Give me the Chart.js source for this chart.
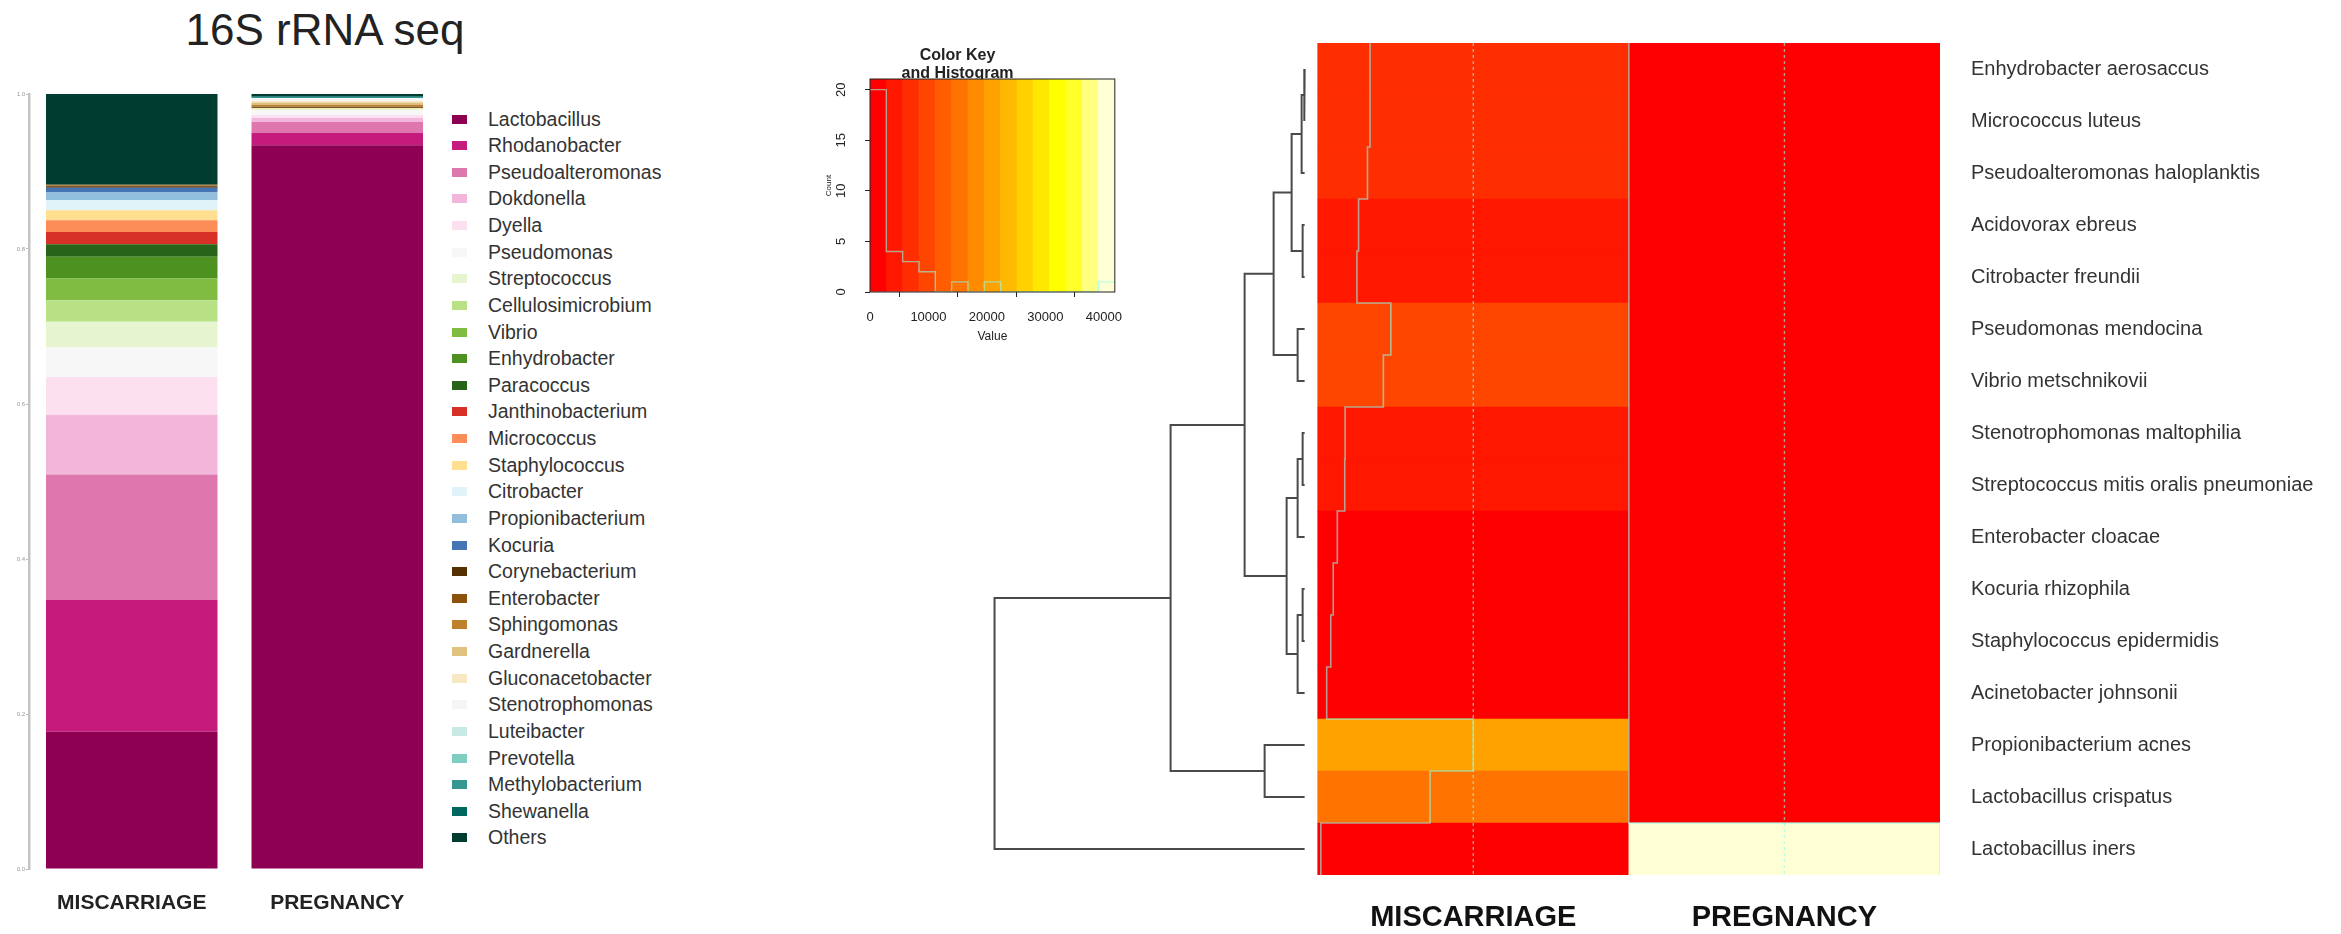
<!DOCTYPE html>
<html>
<head>
<meta charset="utf-8">
<title>16S rRNA seq</title>
<script src="https://cdn.jsdelivr.net/npm/chart.js@4.4.1/dist/chart.umd.min.js"></script>
<style>
  html, body { margin: 0; padding: 0; background: #fff; overflow: hidden; }
  body { position: relative; width: 2341px; height: 934px; font-family: "Liberation Sans", Arial, sans-serif; }
  canvas { position: absolute; }
  #title16s { position: absolute; left: 0; top: 5px; width: 650px; line-height: 50px; font-size: 44px; color: #222; text-align: center; }
  #legend16s { position: absolute; left: 452px; top: 105.7px; }
  .lg-row { display: flex; align-items: center; height: 26.63px; white-space: nowrap; font-size: 19.5px; color: #333; }
  .lg-box { flex: none; width: 15px; height: 9px; margin-right: 21px; }
</style>
</head>
<body>
<div id="title16s">16S rRNA seq</div>
<canvas id="stack" width="440" height="854" style="left:0px;top:80px"></canvas>
<div id="legend16s"></div>
<canvas id="heat" width="1349" height="903" style="left:991px;top:31px"></canvas>
<canvas id="key" width="335" height="301" style="left:800px;top:46px"></canvas>
<script>
// 16S rRNA relative abundance (stacked bars)
const groups16S = ["MISCARRIAGE", "PREGNANCY"]
const genera = [
  "Lactobacillus", "Rhodanobacter", "Pseudoalteromonas", "Dokdonella", "Dyella", "Pseudomonas",
  "Streptococcus", "Cellulosimicrobium", "Vibrio", "Enhydrobacter", "Paracoccus", "Janthinobacterium",
  "Micrococcus", "Staphylococcus", "Citrobacter", "Propionibacterium", "Kocuria", "Corynebacterium",
  "Enterobacter", "Sphingomonas", "Gardnerella", "Gluconacetobacter", "Stenotrophomonas", "Luteibacter",
  "Prevotella", "Methylobacterium", "Shewanella", "Others"
]
const generaColors = [
  "#8e0152", "#c51b7d", "#de77ae", "#f1b6da", "#fde0ef", "#f7f7f7",
  "#e6f5d0", "#b8e186", "#7fbc41", "#4d9221", "#276419", "#d73027",
  "#fc8d59", "#fee090", "#e0f3f8", "#91bfdb", "#4575b4", "#543005",
  "#8c510a", "#bf812d", "#dfc27d", "#f6e8c3", "#f5f5f5", "#c7eae5",
  "#80cdc1", "#35978f", "#01665e", "#003c30"
]
const miscarriage16S = [
  0.177, 0.170, 0.162, 0.077, 0.049, 0.038,
  0.033, 0.028, 0.028, 0.028, 0.016, 0.016,
  0.015, 0.013, 0.013, 0.010, 0.006, 0.002,
  0.001, 0.001, 0, 0, 0, 0,
  0, 0, 0, 0.117
]
const pregnancy16S = [
  0.934, 0.016, 0.014, 0.005, 0.004, 0.006,
  0.002, 0, 0, 0, 0, 0,
  0, 0.001, 0, 0, 0, 0.001,
  0.001, 0.002, 0.003, 0.002, 0.004, 0,
  0, 0.001, 0.001, 0.003
]

// heatmap (abundance per species) + row dendrogram
const species = [
  "Enhydrobacter aerosaccus", "Micrococcus luteus", "Pseudoalteromonas haloplanktis", "Acidovorax ebreus",
  "Citrobacter freundii", "Pseudomonas mendocina", "Vibrio metschnikovii", "Stenotrophomonas maltophilia",
  "Streptococcus mitis oralis pneumoniae", "Enterobacter cloacae", "Kocuria rhizophila", "Staphylococcus epidermidis",
  "Acinetobacter johnsonii", "Propionibacterium acnes", "Lactobacillus crispatus", "Lactobacillus iners"
]
const heatGroups = ["MISCARRIAGE", "PREGNANCY"]
const miscarriageAbund = [7040, 7040, 6700, 5500, 5280, 9840, 8840, 3690, 3640, 2640, 2090, 1760, 1210, 20940, 15120, 420]
const pregnancyAbund = [0, 0, 0, 0, 0, 0, 0, 0, 0, 0, 0, 0, 0, 0, 0, 41880]
// hclust style: negative = leaf (row number), positive = earlier merge
const dendroMerges = [
  [-1, -2], [1, -3], [-4, -5], [2, 3], [-6, -7], [4, 5], [-8, -9], [7, -10],
  [-11, -12], [9, -13], [8, 10], [6, 11], [-14, -15], [12, 13], [14, -16]
]
const dendroHeights = [0.05, 0.3, 0.2, 1.3, 0.7, 3.1, 0.2, 0.7, 0.2, 0.7, 1.8, 6.0, 4.0, 13.4, 31.0]

// colour key
const keyTicks = [0, 10000, 20000, 30000, 40000]
const countTicks = [0, 5, 10, 15, 20]
const histCounts = [20, 4, 3, 2, 0, 1, 0, 1, 0, 0, 0, 0, 0, 0, 1]

const FONT = '"Liberation Sans", Arial, sans-serif'
const TRACE = "rgba(140, 255, 240, 0.6)"
Chart.defaults.font.family = FONT
Chart.defaults.animation = false

// R heat.colors()
function hsv(h, s, v) {
  const i = Math.floor(h * 6), f = h * 6 - i
  const p = v * (1 - s), q = v * (1 - f * s), t = v * (1 - (1 - f) * s)
  const rgb = [[v, t, p], [q, v, p], [p, v, t], [p, q, v], [t, p, v], [v, p, q]][i % 6]
  return "rgb(" + rgb.map(c => Math.round(c * 255)).join(",") + ")"
}
function heatColors(n) {
  const j = Math.floor(n / 4), i = n - j
  const out = []
  for (let k = 0; k < i; k++) out.push(hsv(k / (i - 1) / 6, 1, 1))
  const s0 = 1 - 1 / (2 * j), s1 = 1 / (2 * j)
  for (let k = 0; k < j; k++) out.push(hsv(1 / 6, j > 1 ? s0 - k * (s0 - s1) / (j - 1) : s0, 1))
  return out
}

const nBins = histCounts.length
const palette = heatColors(nBins)
const allAbund = miscarriageAbund.concat(pregnancyAbund)
const heatMin = Math.min(...allAbund)
const heatMax = Math.max(...allAbund)
const breaks = Array.from({ length: nBins + 1 }, (_, k) => heatMin + k * (heatMax - heatMin) / nBins)
const scale01 = v => (v - heatMin) / (heatMax - heatMin)
const colorFor = v => palette[Math.min(nBins - 1, Math.floor(scale01(v) * nBins))]

// ---------- stacked bars ----------
const htmlLegend = {
  id: "htmlLegend",
  afterUpdate(chart) {
    const box = document.getElementById("legend16s")
    box.innerHTML = ""
    const items = chart.options.plugins.legend.labels.generateLabels(chart)
    items.forEach(item => {
      const row = document.createElement("div")
      row.className = "lg-row"
      const swatch = document.createElement("span")
      swatch.className = "lg-box"
      swatch.style.background = item.fillStyle
      const text = document.createElement("span")
      text.textContent = item.text
      row.append(swatch, text)
      box.appendChild(row)
    })
  }
}

new Chart(document.getElementById("stack"), {
  type: "bar",
  data: {
    labels: groups16S,
    datasets: genera.map((g, i) => ({
      label: g,
      data: [miscarriage16S[i], pregnancy16S[i]],
      backgroundColor: generaColors[i],
      borderWidth: 0,
      barPercentage: 0.8345,
      categoryPercentage: 1
    }))
  },
  options: {
    responsive: false,
    layout: { padding: { top: 14 } },
    plugins: {
      tooltip: { enabled: false },
      legend: { display: false }
    },
    scales: {
      x: {
        stacked: true,
        grid: { display: false, drawTicks: false },
        border: { display: false },
        ticks: { color: "#222", font: { size: 21, weight: "bold" }, padding: 21.5, maxRotation: 0, autoSkip: false },
        afterFit(s) { s.height = 65 }
      },
      y: {
        stacked: true,
        min: 0,
        max: 1,
        grid: { drawOnChartArea: false, drawTicks: true, tickLength: 3, color: "#bbb" },
        border: { color: "#c4c4c4", width: 2.5 },
        ticks: { stepSize: 0.2, color: "#999", font: { size: 6 }, padding: 1, callback: v => Number(v).toFixed(1) },
        afterFit(s) { s.width = 29 }
      }
    }
  },
  plugins: [htmlLegend]
})

// ---------- heatmap + dendrogram ----------
const dendroGap = 0.042
const dendroUnit = 0.03215

function dendroPoints() {
  const nodeX = [], nodeY = []
  const pos = id => id < 0 ? { x: -dendroGap, y: -id - 0.5 } : { x: nodeX[id - 1], y: nodeY[id - 1] }
  const pts = []
  dendroMerges.forEach(([a, b], k) => {
    const A = pos(a), B = pos(b)
    const x = -dendroGap - dendroHeights[k] * dendroUnit
    nodeX[k] = x
    nodeY[k] = (A.y + B.y) / 2
    pts.push({ x: A.x, y: A.y }, { x, y: A.y }, { x, y: B.y }, { x: B.x, y: B.y }, { x: null, y: null })
  })
  return pts
}

function tracePoints(values, col) {
  const pts = []
  values.forEach((v, i) => {
    const x = col + scale01(v)
    pts.push({ x, y: i }, { x, y: i + 1 })
  })
  return pts
}

const heatColumns = [miscarriageAbund, pregnancyAbund]
const heatCells = [], heatCellColors = []
species.forEach((sp, i) => {
  heatColumns.forEach((vals, c) => {
    heatCells.push({ x: [c, c + 1], y: i + 0.5 })
    heatCellColors.push(colorFor(vals[i]))
  })
})
const vlineFrac = scale01((breaks[Math.floor(nBins / 2)] + breaks[Math.ceil(nBins / 2)]) / 2)
const vlinePoints = []
heatColumns.forEach((_, c) => {
  vlinePoints.push({ x: c + vlineFrac, y: 0 }, { x: c + vlineFrac, y: species.length }, { x: null, y: null })
})
const tracePts = []
heatColumns.forEach((vals, c) => tracePts.push(...tracePoints(vals, c), { x: null, y: null }))

const lineStyle = { type: "line", pointRadius: 0, fill: false, tension: 0, spanGaps: false, order: 0 }

new Chart(document.getElementById("heat"), {
  type: "scatter",
  data: {
    datasets: [
      { ...lineStyle, label: "dendrogram", data: dendroPoints(), borderColor: "#4a4a4a", borderWidth: 2 },
      { ...lineStyle, label: "trace", data: tracePts, borderColor: TRACE, borderWidth: 1.6 },
      { ...lineStyle, label: "vline", data: vlinePoints, borderColor: TRACE, borderWidth: 1.4, borderDash: [3, 3] },
      {
        type: "bar", label: "cells", indexAxis: "y", data: heatCells, backgroundColor: heatCellColors,
        borderWidth: 0, barPercentage: 1, categoryPercentage: 1, order: 1
      }
    ]
  },
  options: {
    responsive: false,
    plugins: { legend: { display: false }, tooltip: { enabled: false } },
    scales: {
      x: {
        type: "linear",
        min: -1.05,
        max: 2,
        offset: false,
        position: "bottom",
        grid: { display: false, drawTicks: false },
        border: { display: false },
        afterBuildTicks(s) { s.ticks = heatGroups.map((g, i) => ({ value: i + 0.5 })) },
        ticks: {
          autoSkip: false, maxRotation: 0, color: "#111", padding: 25.5,
          font: { size: 29, weight: "bold" },
          callback: v => heatGroups[Math.floor(v)]
        },
        afterFit(s) { s.height = 59 }
      },
      y: {
        type: "linear",
        min: 0,
        max: species.length,
        reverse: true,
        offset: false,
        position: "right",
        grid: { display: false, drawTicks: true, tickLength: 31 },
        border: { display: false },
        afterBuildTicks(s) { s.ticks = species.map((sp, i) => ({ value: i + 0.5 })) },
        ticks: {
          autoSkip: false, color: "#333", padding: 0, font: { size: 20, lineHeight: 1.2 },
          callback: v => species[Math.floor(v)]
        },
        afterFit(s) { s.width = 400 }
      }
    }
  }
})

// ---------- colour key and histogram ----------
const keyTop = Math.max(...histCounts) / 0.95
const keyBands = palette.map((c, k) => ({ x: (breaks[k] + breaks[k + 1]) / 2, y: [0, keyTop] }))
const histPoints = []
histCounts.forEach((n, k) => histPoints.push({ x: breaks[k], y: n }, { x: breaks[k + 1], y: n }))

const keyFrame = {
  id: "keyFrame",
  afterDatasetsDraw(chart) {
    const { ctx, chartArea: a } = chart
    ctx.save()
    ctx.strokeStyle = "#222"
    ctx.lineWidth = 1
    ctx.strokeRect(a.left, a.top, a.right - a.left, a.bottom - a.top)
    ctx.restore()
  }
}
const keyCountLabels = {
  id: "keyCountLabels",
  afterDraw(chart) {
    const s = chart.scales.y, ctx = chart.ctx
    ctx.save()
    ctx.fillStyle = "#222"
    ctx.font = "13px " + FONT
    ctx.textAlign = "center"
    ctx.textBaseline = "middle"
    s.ticks.forEach(t => {
      ctx.save()
      ctx.translate(s.right - 29, s.getPixelForValue(t.value))
      ctx.rotate(-Math.PI / 2)
      ctx.fillText(String(t.value), 0, 0)
      ctx.restore()
    })
    ctx.restore()
  }
}

new Chart(document.getElementById("key"), {
  type: "scatter",
  data: {
    datasets: [
      { ...lineStyle, label: "histogram", data: histPoints, borderColor: TRACE, borderWidth: 1.4 },
      {
        type: "bar", label: "key", data: keyBands, backgroundColor: palette,
        borderWidth: 0, barPercentage: 1, categoryPercentage: 1, order: 1
      }
    ]
  },
  options: {
    responsive: false,
    layout: { padding: { right: 20 } },
    plugins: {
      legend: { display: false },
      tooltip: { enabled: false },
      title: {
        display: true,
        text: ["Color Key", "and Histogram"],
        color: "#222",
        font: { size: 16, weight: "bold", lineHeight: 1.15 },
        padding: { top: 0, bottom: -3.8 }
      }
    },
    scales: {
      x: {
        type: "linear",
        min: heatMin,
        max: heatMax,
        offset: false,
        grid: { drawOnChartArea: false, drawTicks: true, tickLength: 5, color: "#222" },
        border: { display: false },
        afterBuildTicks(s) { s.ticks = keyTicks.map(v => ({ value: v })) },
        ticks: { autoSkip: false, maxRotation: 0, color: "#222", font: { size: 13 }, padding: 12.2, callback: v => String(v) },
        title: { display: true, text: "Value", color: "#222", font: { size: 12 }, padding: { top: 0, bottom: 2.8 } },
        afterFit(s) { s.height = 55 }
      },
      y: {
        type: "linear",
        min: 0,
        max: keyTop,
        offset: false,
        grid: { drawOnChartArea: false, drawTicks: true, tickLength: 5, color: "#222" },
        border: { display: false },
        afterBuildTicks(s) { s.ticks = countTicks.map(v => ({ value: v })) },
        ticks: { display: false },
        title: { display: true, text: "Count", color: "#222", font: { size: 8 }, padding: { top: 24.2, bottom: 0 } },
        afterFit(s) { s.width = 70 }
      }
    }
  },
  plugins: [keyFrame, keyCountLabels]
})
</script>
</body>
</html>
